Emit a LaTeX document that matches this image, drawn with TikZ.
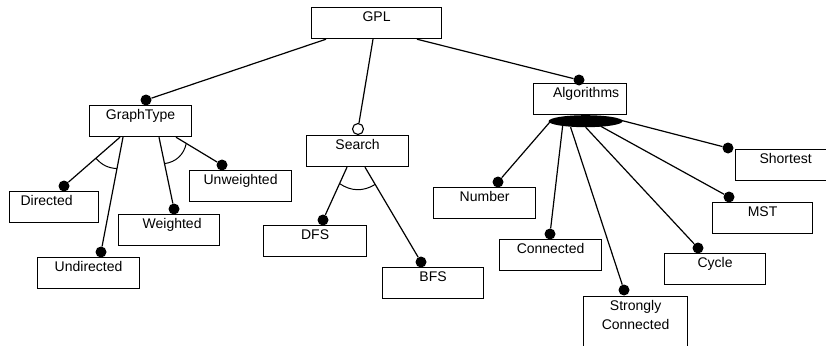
\documentclass[tikz,border=0pt]{standalone}
\usepackage{fontspec}
\setmainfont{Liberation Sans}
\usetikzlibrary{calc,shapes.geometric}
\begin{document}
\begin{tikzpicture}[x=1pt,y=-1pt,
  box/.style={draw, line width=1.2pt, rectangle, anchor=north west, inner sep=0pt,
    minimum height=31pt, text height=14pt, text depth=17pt, font=\fontsize{14}{19}\selectfont},
  dot/.style={circle, fill=black, inner sep=0pt, minimum size=11pt},
  odot/.style={circle, draw, fill=white, line width=1.1pt, inner sep=0pt, minimum size=11pt},
  conn/.style={line width=1.2pt},
]
\useasboundingbox (0,0) rectangle (826,345);
\clip (0,0) rectangle (826,345);
\fill[white] (0,0) rectangle (826,345);

% boxes
\node[box, minimum width=130pt] (GPL) at (311,7) {GPL};
\node[box, minimum width=102pt] (GT) at (89,105) {GraphType};
\node[box, minimum width=89pt] (Dir) at (9,191) {Directed\hspace*{15pt}};
\node[box, minimum width=102pt] (Und) at (37,257) {Undirected};
\node[box, minimum width=101pt] (Wei) at (118,214) {\hspace*{6pt}Weighted};
\node[box, minimum width=102pt] (Unw) at (189,170) {Unweighted};
\node[box, minimum width=102pt] (Sea) at (306,135) {Search};
\node[box, minimum width=103pt] (DFS) at (263,225) {DFS};
\node[box, minimum width=101pt] (BFS) at (382,267) {BFS};
\node[box, minimum width=93pt] (Alg) at (533,83) {\hspace*{12pt}Algorithms};
\node[box, minimum width=102pt] (Num) at (433,187) {Number};
\node[box, minimum width=102pt] (Con) at (499,239) {Connected};
\node[box, minimum width=104pt, text depth=45pt] (Str) at (583,296)
  {\begin{tabular}[t]{@{}c@{}}Strongly\\Connected\end{tabular}};
\node[box, minimum width=101pt] (Cyc) at (664,253) {Cycle};
\node[box, minimum width=100pt] (MST) at (712,202) {MST};
\node[box, minimum width=100pt] (Sho) at (735,149) {Shortest};

% ellipse of the or-group
\node[ellipse, fill=black, minimum width=74pt, minimum height=12pt, inner sep=0pt] (ell)
  at ($(Alg.south)+(5.5,6)$) {};

% dots
\node[dot] (dGT) at ($(GT.north west)+(57,-5)$) {};
\node[dot] (dDir) at ($(Dir.north west)+(55,-5)$) {};
\node[dot] (dUnd) at ($(Und.north west)+(64,-5)$) {};
\node[dot] (dWei) at ($(Wei.north west)+(56,-5)$) {};
\node[dot] (dUnw) at ($(Unw.north west)+(33,-5)$) {};
\node[odot] (dSea) at ($(Sea.north west)+(52,-6)$) {};
\node[dot] (dDFS) at ($(DFS.north west)+(60,-5)$) {};
\node[dot] (dBFS) at ($(BFS.north west)+(39,-5)$) {};
\node[dot] (dAlg) at ($(Alg.north west)+(46,-3)$) {};
\node[dot] (dNum) at ($(Num.north west)+(65,-5)$) {};
\node[dot] (dCon) at ($(Con.north west)+(51,-5)$) {};
\node[dot] (dStr) at ($(Str.north west)+(41,-6)$) {};
\node[dot] (dCyc) at ($(Cyc.north west)+(34,-5)$) {};
\node[dot] (dMST) at ($(MST.north west)+(17,-5)$) {};
\node[dot] (dSho) at ($(Sho.north west)+(-7,-1)$) {};

% start points
\coordinate (sGT)  at ($(GPL.south west)+(15,0)$);
\coordinate (sSea) at ($(GPL.south west)+(62,0)$);
\coordinate (sAlg) at ($(GPL.south west)+(106,0)$);
\coordinate (sDir) at ($(GT.south west)+(31,0)$);
\coordinate (sUnd) at ($(GT.south west)+(34,0)$);
\coordinate (sWei) at ($(GT.south west)+(70,0)$);
\coordinate (sUnw) at ($(GT.south west)+(87,0)$);
\coordinate (sDFS) at ($(Sea.south west)+(41,0)$);
\coordinate (sBFS) at ($(Sea.south west)+(59,0)$);
\coordinate (sNum) at ($(ell.center)+(-35,0)$);
\coordinate (sCon) at ($(ell.center)+(-23,5)$);
\coordinate (sStr) at ($(ell.center)+(-15,6)$);
\coordinate (sCyc) at ($(ell.center)+(0,6)$);
\coordinate (sMST) at ($(ell.center)+(15,5)$);
\coordinate (sSho) at ($(ell.center)+(35,-1)$);

% connectors
\draw[conn] (sGT) -- (dGT);
\draw[conn] (sSea) -- (dSea);
\draw[conn] (sAlg) -- (dAlg);
\draw[conn] (sDir) -- (dDir);
\draw[conn] (sUnd) -- (dUnd);
\draw[conn] (sWei) -- (dWei);
\draw[conn] (sUnw) -- (dUnw);
\draw[conn] (sDFS) -- (dDFS);
\draw[conn] (sBFS) -- (dBFS);
\draw[conn] (sNum) -- (dNum);
\draw[conn] (sCon) -- (dCon);
\draw[conn] (sStr) -- (dStr);
\draw[conn] (sCyc) -- (dCyc);
\draw[conn] (sMST) -- (dMST);
\draw[conn] (sSho) -- (dSho);

% alternative-group arcs
\draw[line width=1pt] ($(sDir)!32pt!(dDir)$) to[bend right=22] ($(sUnd)!32pt!(dUnd)$);
\draw[line width=1pt] ($(sWei)!27pt!(dWei)$) to[bend right=35] ($(sUnw)!12pt!(dUnw)$);
\draw[line width=1pt] ($(sDFS)!18pt!(dDFS)$) to[bend right=33] ($(sBFS)!20pt!(dBFS)$);
\end{tikzpicture}
\end{document}
